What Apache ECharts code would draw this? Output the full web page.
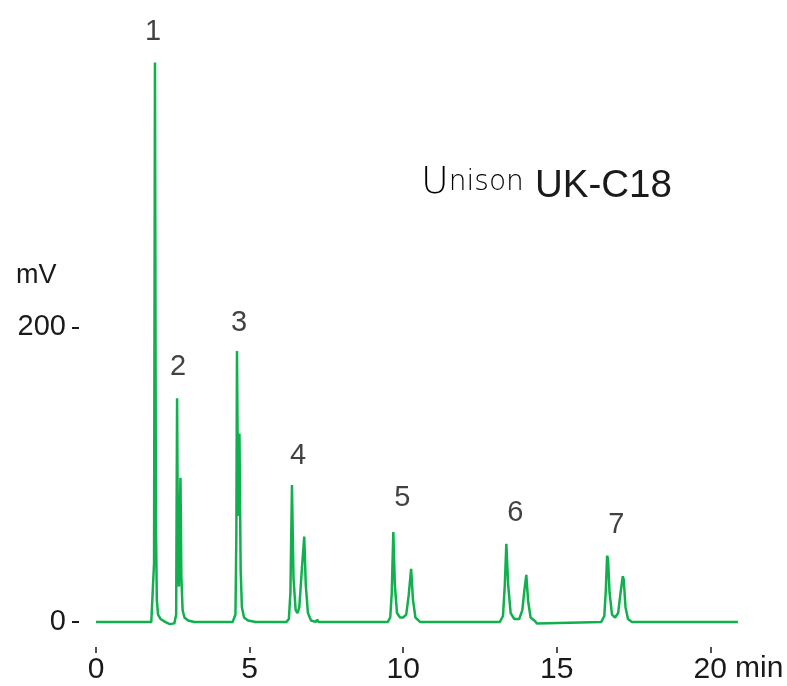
<!DOCTYPE html>
<html>
<head>
<meta charset="utf-8">
<script src="https://cdn.jsdelivr.net/npm/echarts@6/dist/echarts.min.js"></script>
<style>html,body{margin:0;padding:0;background:#fff}#c{width:787px;height:686px}</style>
</head>
<body>
<div id="c"></div>
<script>
// chromatogram trace: [time (min), signal (mV)]
const trace = [
  [0.00, 0], [1.80, 0], [1.86, 1], [1.89, 40], [1.92, 380], [1.95, 70], [1.98, 15], [2.02, 5],
  [2.10, 2], [2.25, 0], [2.40, -1.5], [2.55, -1],
  [2.58, -1], [2.61, 5], [2.64, 152], [2.67, 40], [2.70, 24], [2.72, 60], [2.75, 98], [2.78, 30],
  [2.82, 8], [2.88, 3], [3.00, 1], [3.20, 0], [4.45, 0],
  [4.50, 0.5], [4.54, 5], [4.57, 60], [4.59, 184], [4.63, 72], [4.67, 128], [4.71, 35], [4.75, 10],
  [4.82, 3], [4.95, 1], [5.20, 0], [6.20, 0],
  [6.28, 2], [6.33, 20], [6.38, 93], [6.43, 30], [6.50, 8], [6.56, 6], [6.62, 10], [6.70, 35],
  [6.78, 58], [6.83, 25], [6.90, 6], [7.00, 1], [7.15, 0], [7.20, 1.5], [7.25, 0],
  [8.05, 0], [8.10, -1], [8.15, 0], [9.50, 0],
  [9.58, 3], [9.63, 20], [9.68, 61], [9.73, 25], [9.80, 6], [9.90, 3], [10.00, 3], [10.10, 5],
  [10.18, 18], [10.26, 36], [10.32, 15], [10.40, 3], [10.55, 0], [13.15, 0],
  [13.25, 4], [13.31, 25], [13.36, 53], [13.42, 25], [13.50, 6], [13.62, 2], [13.78, 2], [13.88, 8],
  [13.95, 22], [14.01, 32], [14.07, 14], [14.15, 3], [14.30, 0.5], [14.35, -1], [14.40, 0], [16.45, 0],
  [16.55, 4], [16.60, 22], [16.64, 45], [16.67, 43], [16.72, 20], [16.80, 5], [16.90, 3], [17.00, 6],
  [17.08, 20], [17.15, 31], [17.18, 29], [17.24, 10], [17.32, 2], [17.45, 0], [20.90, 0]
];
// peak number labels: [time, mV, name]
const peakLabels = [
  [1.86, 401, '1'], [2.67, 173, '2'], [4.66, 203, '3'], [6.58, 113, '4'],
  [9.97, 84, '5'], [13.65, 74, '6'], [16.94, 66, '7']
];
const xTicks = [0, 5, 10, 15, 20];
const yTicks = [0, 200];

const chart = echarts.init(document.getElementById('c'));
const txt = '#1a1a1a';
const ff = 'Liberation Sans, Arial, sans-serif';
chart.setOption({
  animation: false,
  backgroundColor: '#fff',
  grid: { left: 96, right: 46, top: 36, bottom: 42 },
  xAxis: {
    type: 'value', min: 0, max: 21, offset: 3,
    axisLine: { show: false, onZero: false },
    splitLine: { show: false },
    axisTick: { show: true, length: 6, customValues: xTicks, lineStyle: { color: txt, width: 1.5 } },
    axisLabel: { customValues: xTicks, margin: 8, color: txt, fontSize: 30, fontFamily: ff }
  },
  yAxis: {
    type: 'value', min: -15, max: 398, offset: 17,
    axisLine: { show: false, onZero: false },
    splitLine: { show: false },
    axisTick: { show: true, length: 7, customValues: yTicks, lineStyle: { color: txt, width: 2 } },
    axisLabel: { customValues: yTicks, margin: 13, color: txt, fontSize: 29, fontFamily: ff }
  },
  graphic: [
    { type: 'text', left: 16, top: 262, style: { text: 'mV', fontSize: 27, fill: txt, fontFamily: ff } },
    { type: 'text', left: 735, top: 654, style: { text: 'min', fontSize: 30, fill: txt, fontFamily: ff } },
    { type: 'text', left: 421, top: 164, style: {
        text: '{a|U}{b|nison}', fill: '#000',
        rich: {
          a: { fontSize: 38, fontFamily: 'DejaVu Sans', fontWeight: 300, fill: '#000' },
          b: { fontSize: 28, fontFamily: 'DejaVu Sans', fontWeight: 300, fill: '#000' }
        } } },
    { type: 'text', left: 535, top: 167, style: { text: 'UK-C18', fontSize: 38.5, fill: txt, fontFamily: ff } }
  ],
  series: [
    {
      type: 'line', data: trace, showSymbol: false, smooth: false,
      lineStyle: { color: '#10b04e', width: 2.5 }, silent: true
    },
    {
      type: 'scatter', symbolSize: 0, silent: true, clip: false,
      data: peakLabels.map(p => ({ value: [p[0], p[1]], name: p[2] })),
      label: { show: true, position: 'inside', formatter: '{b}', fontSize: 29, color: '#111', fontFamily: ff }
    }
  ]
});
</script>
</body>
</html>
